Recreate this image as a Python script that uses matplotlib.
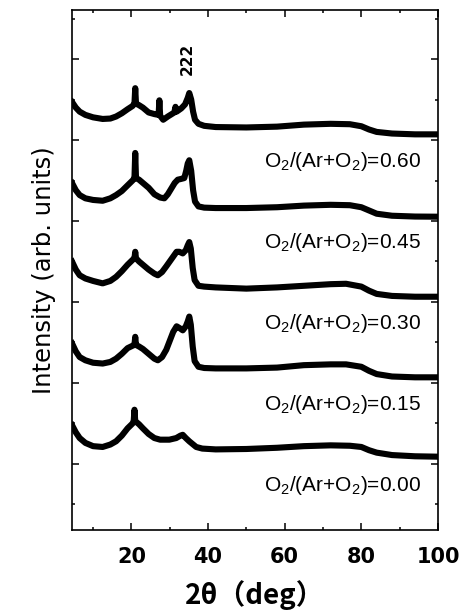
import numpy as np
import matplotlib
matplotlib.use('Agg')
import matplotlib.pyplot as plt

# XRD patterns (2theta in deg, intensity in arb. units,
# each curve relative to its own offset)
ratios = ['0.00', '0.15', '0.30', '0.45', '0.60']
offsets = [0, 1, 2, 3, 4]

tt_000 = [4.5, 5.5, 6.5, 8, 10, 12.5, 14.5, 16, 17.5, 19, 20.3, 20.6, 20.8, 21.0, 22,
          23, 24.5, 26, 27.5, 29.9, 31.7, 32.8, 33.4, 34.2, 35.1, 36.9, 38.5, 42, 50,
          58, 65, 72, 77, 80, 82, 84, 88, 94, 100]
int_000 = [0.48, 0.39, 0.32, 0.26, 0.22, 0.21, 0.24, 0.28, 0.35, 0.44, 0.50, 0.53, 0.67,
           0.53, 0.49, 0.44, 0.37, 0.32, 0.30, 0.30, 0.32, 0.35, 0.36, 0.32, 0.28, 0.21,
           0.19, 0.18, 0.185, 0.20, 0.22, 0.23, 0.225, 0.21, 0.17, 0.14, 0.11, 0.095, 0.09]

tt_015 = [4.5, 5.5, 6.5, 8, 10, 12.5, 14.5, 16, 17.5, 19, 20.3, 20.8, 21.0, 21.2, 22,
          23, 24.5, 26, 26.9, 28, 29.1, 30, 30.9, 31.8, 32.5, 33.4, 34.2, 34.7, 35.1,
          35.5, 36.0, 36.5, 37.5, 39, 42, 50, 58, 65, 72, 76, 80, 82, 84, 88, 94, 100]
int_015 = [0.49, 0.39, 0.32, 0.28, 0.25, 0.24, 0.26, 0.30, 0.36, 0.43, 0.46, 0.47, 0.57,
           0.47, 0.45, 0.42, 0.36, 0.30, 0.28, 0.32, 0.41, 0.52, 0.63, 0.70, 0.68, 0.65,
           0.70, 0.76, 0.82, 0.72, 0.45, 0.27, 0.20, 0.185, 0.18, 0.18, 0.19, 0.22, 0.23,
           0.23, 0.20, 0.15, 0.11, 0.08, 0.07, 0.07]

tt_030 = [4.5, 5.5, 6.5, 8, 10, 12.5, 14.5, 16, 17.5, 19, 20.3, 20.8, 21.0, 21.2, 22,
          23, 24.5, 26, 26.9, 28, 29.1, 30, 30.9, 31.8, 32.5, 33.4, 34.2, 34.7, 35.1,
          35.5, 36.0, 36.5, 37.5, 39, 42, 50, 58, 65, 72, 76, 80, 82, 84, 88, 94, 100]
int_030 = [0.50, 0.40, 0.33, 0.29, 0.26, 0.23, 0.26, 0.31, 0.38, 0.46, 0.52, 0.54, 0.62,
           0.54, 0.50, 0.46, 0.40, 0.35, 0.33, 0.37, 0.44, 0.50, 0.56, 0.62, 0.62, 0.60,
           0.64, 0.70, 0.74, 0.66, 0.42, 0.27, 0.20, 0.19, 0.18, 0.165, 0.18, 0.20, 0.22,
           0.225, 0.19, 0.14, 0.10, 0.075, 0.065, 0.065]

tt_045 = [4.5, 5.5, 6.5, 8, 10, 12.5, 14.5, 16, 17.5, 19, 20.3, 20.8, 21.0, 21.2, 22,
          23, 24.5, 26, 27.5, 28.6, 29.5, 30.4, 31.3, 32.1, 33, 33.8, 34.3, 34.7, 35.1,
          35.6, 36.1, 36.6, 37.5, 39, 42, 50, 58, 65, 72, 77, 80, 82, 84, 88, 94, 100]
int_045 = [0.47, 0.38, 0.32, 0.28, 0.26, 0.25, 0.28, 0.32, 0.37, 0.44, 0.50, 0.53, 0.84,
           0.53, 0.51, 0.47, 0.41, 0.33, 0.29, 0.28, 0.33, 0.40, 0.47, 0.51, 0.52, 0.53,
           0.62, 0.71, 0.75, 0.62, 0.38, 0.24, 0.18, 0.165, 0.16, 0.16, 0.17, 0.19, 0.20,
           0.195, 0.17, 0.13, 0.09, 0.065, 0.055, 0.053]

tt_060 = [4.5, 5.5, 6.5, 8, 10, 12.5, 14.5, 16, 17.5, 19, 20.3, 20.8, 21.0, 21.2, 22,
          23, 24.5, 26, 27.1, 27.3, 27.5, 28.3, 29.5, 31.2, 31.5, 31.8, 33, 34.0, 34.7,
          35.1, 35.6, 36.1, 36.6, 37.5, 39, 42, 50, 58, 65, 72, 77, 80, 82, 84, 88, 94, 100]
int_060 = [0.47, 0.40, 0.35, 0.31, 0.28, 0.26, 0.265, 0.29, 0.33, 0.38, 0.42, 0.45, 0.64,
           0.45, 0.43, 0.40, 0.34, 0.32, 0.31, 0.49, 0.30, 0.25, 0.29, 0.34, 0.41, 0.35,
           0.39, 0.44, 0.52, 0.58, 0.50, 0.35, 0.25, 0.20, 0.175, 0.16, 0.155, 0.165, 0.19,
           0.20, 0.195, 0.17, 0.13, 0.10, 0.08, 0.07, 0.07]

curves = [(tt_000, int_000), (tt_015, int_015), (tt_030, int_030),
          (tt_045, int_045), (tt_060, int_060)]

plt.rcParams['mathtext.fontset'] = 'custom'
plt.rcParams['mathtext.rm'] = 'Liberation Sans'
plt.rcParams['mathtext.it'] = 'Liberation Sans:italic'

fig = plt.figure(figsize=(4.63, 6.11), dpi=100)
ax = fig.add_axes([0.1555, 0.1326, 0.7905, 0.851])

for (tt, inten), off, r in zip(curves, offsets, ratios):
    y = np.array(inten) + off
    ax.plot(tt, y, color='black', lw=4.4, solid_joinstyle='round')
    ax.text(95.5, off - 0.27, r'O$_2$/(Ar+O$_2$)=' + r, ha='right', va='center',
            fontsize=15, family='Liberation Sans')

ax.text(34.5, 5.0, '222', rotation=90, ha='center', va='center', fontsize=11,
        fontweight='bold', family='DejaVu Sans')

ax.set_xlim(4.5, 100)
ax.set_ylim(-0.815, 5.605)
ax.set_xticks([20, 40, 60, 80, 100])
ax.set_xticks(np.arange(10, 100, 10), minor=True)
ax.set_yticks(np.arange(0, 6, 1))
ax.set_yticks(np.arange(-0.5, 6, 1), minor=True)
ax.set_yticklabels([])
ax.tick_params(which='both', direction='in', top=True, right=True, width=1.1)
ax.tick_params(which='major', length=5)
ax.tick_params(which='minor', length=2.5)
for lab in ax.get_xticklabels():
    lab.set_fontsize(15)
    lab.set_fontweight('bold')
ax.tick_params(axis='x', pad=12)
for s in ax.spines.values():
    s.set_linewidth(1.2)

ax.set_xlabel('2θ（deg）', family=['Noto Sans CJK JP', 'DejaVu Sans'],
              fontsize=20, fontweight='bold', labelpad=10)
ax.set_ylabel('Intensity (arb. units)', fontsize=17.5, labelpad=8)

fig.savefig('out.png', dpi=100)
